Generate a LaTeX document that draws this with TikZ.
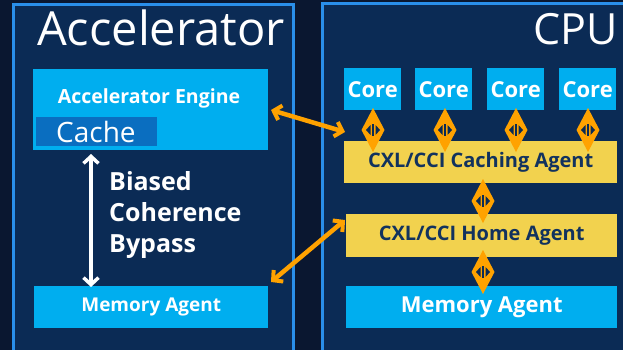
\documentclass[tikz,border=0pt]{standalone}
\usepackage{fontspec}
\setmainfont{Open Sans}
\usetikzlibrary{arrows.meta,shapes.geometric}
\definecolor{bgnavy}{HTML}{0A1730}
\definecolor{boxnavy}{HTML}{0B2B55}
\definecolor{rim}{HTML}{2A8FEA}
\definecolor{sky}{HTML}{00AEEF}
\definecolor{cachebl}{HTML}{0A6EC0}
\definecolor{gold}{HTML}{F2D24E}
\definecolor{amber}{HTML}{FFA200}
\definecolor{ink}{HTML}{12325E}
\tikzset{
  x=1pt, y=-1pt,
  panel/.style={draw=rim, line width=3pt, fill=boxnavy},
  skybox/.style={fill=sky, inner sep=0pt, text=white, font=\bfseries},
  goldbox/.style={fill=gold, inner sep=0pt, text=ink, font=\bfseries},
  link/.style={draw=amber, line width=4.5pt, line cap=round,
    {Straight Barb[length=7pt,width=15pt,line width=4pt]}-{Straight Barb[length=7pt,width=15pt,line width=4pt]}},
  whitelink/.style={draw=white, line width=3.5pt,
    {Straight Barb[length=7pt,width=15pt,line width=3.5pt]}-{Straight Barb[length=7pt,width=15pt,line width=3.5pt]}},
}
% orange diamond connector between two stacked boxes
\newcommand\dlink[2]{%
  \fill[amber] (#1,#2-22) -- (#1+11.5,#2) -- (#1,#2+22) -- (#1-11.5,#2) -- cycle;
  \fill[boxnavy] (#1-2.5,#2-5) -- (#1-7,#2) -- (#1-2.5,#2+5) -- cycle;
  \fill[boxnavy] (#1+2.5,#2-5) -- (#1+7,#2) -- (#1+2.5,#2+5) -- cycle;
  \draw[boxnavy, line width=1.2pt] (#1,#2-6) -- (#1,#2+6);
}
\begin{document}
\begin{tikzpicture}
\useasboundingbox (0,0) rectangle (623,350);
\fill[bgnavy] (0,0) rectangle (623,350);

% panels
\draw[panel] (13,5) rectangle (293,352);
\draw[panel] (322,4) rectangle (630,352);

\node[text=white, font=\fontsize{47}{47}\selectfont, anchor=base west, inner sep=0pt] (acctitle) at (37,46) {Accelerator};
\node[text=white, font=\fontsize{43}{43}\selectfont, anchor=base east, inner sep=0pt] (cputitle) at (618,45) {CPU};

% accelerator side
\node[skybox, minimum width=235pt, minimum height=81pt, anchor=north west] (engine) at (33,69) {};
\node[text=white, font=\bfseries\fontsize{19.5}{19.5}\selectfont, anchor=base, inner sep=0pt] (enginelbl) at (149,103) {Accelerator Engine};
\node[fill=cachebl, minimum width=121pt, minimum height=29pt, inner sep=0pt, anchor=north west] (cache) at (36,117) {};
\node[text=white, font=\fontsize{28}{28}\selectfont, anchor=base west, inner sep=0pt] (cachelbl) at (56,142) {Cache};
\node[skybox, minimum width=234pt, minimum height=42pt, anchor=north west, font=\bfseries\fontsize{19}{19}\selectfont] (accmem) at (34,286) {Memory Agent};

\coordinate (bypassTop) at (91,154);
\coordinate (bypassBot) at (91,287);
\draw[whitelink] (bypassTop) -- (bypassBot);
\node[text=white, font=\bfseries\fontsize{25}{31}\selectfont, align=left, anchor=north west, inner sep=0pt] (bypasslbl) at (109,171) {Biased\\Coherence\\Bypass};

% cpu side
\foreach \n/\x in {1/344, 2/415, 3/487, 4/559}{
  \node[skybox, minimum width=57pt, minimum height=42pt, anchor=north west, font=\bfseries\fontsize{22}{22}\selectfont] (core\n) at (\x,68) {Core};
}
\node[goldbox, minimum width=273pt, minimum height=42pt, anchor=north west, font=\bfseries\fontsize{20}{20}\selectfont] (caching) at (344,141) {CXL/CCI Caching Agent};
\node[goldbox, minimum width=271pt, minimum height=43pt, anchor=north west, font=\bfseries\fontsize{20}{20}\selectfont] (home) at (346,214) {CXL/CCI Home Agent};
\node[skybox, minimum width=271pt, minimum height=42pt, anchor=north west, font=\bfseries\fontsize{22}{22}\selectfont] (cpumem) at (346,286) {Memory Agent};

\foreach \x in {373,445,516,588}{ \dlink{\x}{130} }
\dlink{483}{201}
\dlink{483}{272}

% cross-device links
\coordinate (engineR) at (271,110);
\coordinate (cachingL) at (345,132);
\coordinate (accmemR) at (271,282);
\coordinate (homeL) at (345,220);
\draw[link] (engineR) -- (cachingL);
\draw[link] (accmemR) -- (homeL);
\end{tikzpicture}
\end{document}
